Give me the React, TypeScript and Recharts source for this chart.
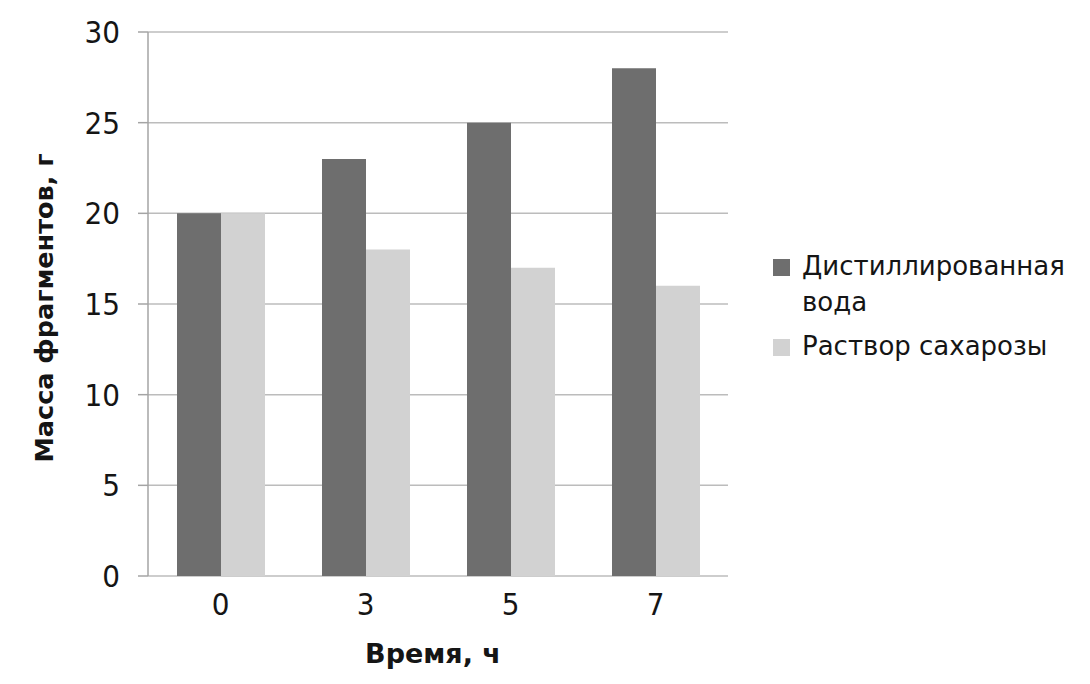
import React from 'react';
import { BarChart, Bar, XAxis, YAxis, CartesianGrid, Legend } from 'recharts';

const categories = ['0', '3', '5', '7'];
const waterValues = [20, 23, 25, 28];
const sucroseValues = [20, 18, 17, 16];
const yTicks = [0, 5, 10, 15, 20, 25, 30];
const boundaryTicks = [0, 1, 2, 3, 4];
const seriesNames = ['Дистиллированная вода', 'Раствор сахарозы'];
const seriesColors = ['#6e6e6e', '#d2d2d2'];
const yLabel = 'Масса фрагментов, г';
const xLabel = 'Время, ч';

const data = categories.map((c, i) => ({
  time: c,
  water: waterValues[i],
  sucrose: sucroseValues[i],
}));

const FONT = '"DejaVu Sans Condensed", "DejaVu Sans", Verdana, sans-serif';
const WIDE = '"DejaVu Sans", Verdana, sans-serif';
const TEXT = '#151515';
const AXIS = '#a4a4a4';
const GRID = '#bcbcbc';

const LegendContent = (props: any) => {
  const payload = props.payload || [];
  return (
    <div style={{ fontFamily: WIDE, fontSize: 26, color: TEXT, lineHeight: '36px' }}>
      {payload.map((p: any, i: number) => (
        <div key={i} style={{ position: 'relative', paddingLeft: 42, marginBottom: 8, width: 300 }}>
          <span
            style={{
              position: 'absolute',
              left: 13,
              top: 11,
              width: 17,
              height: 17,
              background: p.color,
            }}
          />
          <span>{p.value}</span>
        </div>
      ))}
    </div>
  );
};

const YLabel = (props: any) => {
  const vb = props.viewBox || { x: 0, y: 0, width: 0, height: 0 };
  const cx = vb.x + 44;
  const cy = vb.y + vb.height / 2 + 4;
  return (
    <text
      x={cx}
      y={cy}
      transform={`rotate(-90, ${cx}, ${cy})`}
      textAnchor="middle"
      dominantBaseline="central"
      fontFamily={WIDE}
      fontWeight="bold"
      fontSize={25.5}
      fill={TEXT}
    >
      {yLabel}
    </text>
  );
};

const XLabel = (props: any) => {
  const vb = props.viewBox || { x: 0, y: 0, width: 0, height: 0 };
  const cx = vb.x + vb.width / 2 - 5;
  const cy = vb.y + 87;
  return (
    <text
      x={cx}
      y={cy}
      textAnchor="middle"
      fontFamily={WIDE}
      fontWeight="bold"
      fontSize={27}
      fill={TEXT}
    >
      {xLabel}
    </text>
  );
};

export default function App() {
  return (
    <div style={{ position: 'absolute', left: 0, top: 0, background: '#fff' }}>
      <BarChart
        width={1090}
        height={684}
        data={data}
        margin={{ top: 32, right: 42, bottom: 0, left: 0 }}
        barCategoryGap="20%"
        barGap={0}
      >
        <CartesianGrid vertical={false} stroke={GRID} strokeWidth={1.5} />
        <XAxis
          xAxisId="b"
          type="number"
          domain={[0, 4]}
          ticks={boundaryTicks}
          tickFormatter={() => ''}
          height={0}
          tickSize={10}
          stroke={AXIS}
          strokeWidth={1.5}
          tickLine={{ stroke: AXIS, strokeWidth: 1.5 }}
          axisLine={{ stroke: AXIS, strokeWidth: 1.5 }}
          allowDataOverflow
        />
        <XAxis
          xAxisId="cat"
          dataKey="time"
          height={108}
          tickLine={false}
          axisLine={false}
          tickSize={0}
          tickMargin={17}
          tick={{ fontFamily: FONT, fontSize: 31, fill: TEXT }}
          label={<XLabel />}
        />
        <YAxis
          width={148}
          domain={[0, 30]}
          ticks={yTicks}
          tickSize={10}
          tickMargin={18}
          tick={{ fontFamily: FONT, fontSize: 31, fill: TEXT }}
          tickLine={{ stroke: AXIS, strokeWidth: 1.5 }}
          axisLine={{ stroke: AXIS, strokeWidth: 1.5 }}
          label={<YLabel />}
        />
        <Legend
          layout="vertical"
          align="right"
          verticalAlign="middle"
          content={<LegendContent />}
          wrapperStyle={{ left: 760, top: 248, width: 320 }}
        />
        <Bar
          xAxisId="cat"
          dataKey="water"
          name={seriesNames[0]}
          fill={seriesColors[0]}
          isAnimationActive={false}
        />
        <Bar
          xAxisId="cat"
          dataKey="sucrose"
          name={seriesNames[1]}
          fill={seriesColors[1]}
          isAnimationActive={false}
        />
      </BarChart>
    </div>
  );
}
